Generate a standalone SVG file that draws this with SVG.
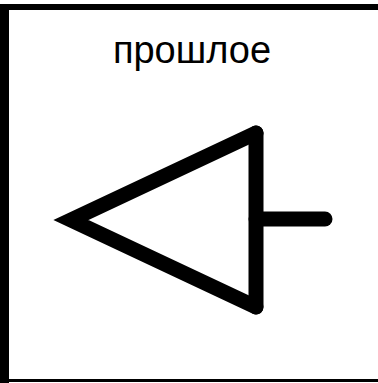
<svg xmlns="http://www.w3.org/2000/svg" width="378" height="383" viewBox="0 0 378 383">
  <style>
    .frame { fill: #000; }
    .sym { fill: none; stroke: #000; stroke-width: 15; }
    .label { font-family: "Liberation Sans", Arial, sans-serif; font-size: 38px; fill: #000; }
  </style>
  <rect width="378" height="383" fill="#fff"/>
  <g id="frame">
    <rect class="frame" x="0" y="4" width="378" height="6"/>
    <rect class="frame" x="0" y="4" width="9" height="379"/>
    <rect class="frame" x="0" y="379" width="378" height="3"/>
  </g>
  <g id="label">
    <text class="label" x="192" y="63" text-anchor="middle">прошлое</text>
  </g>
  <g id="symbol">
    <path class="sym" d="M256,133 L71,220 L256,307" stroke-linejoin="miter" stroke-linecap="round"/>
    <path class="sym" d="M256,133 V307" stroke-linecap="round"/>
    <path class="sym" d="M256,219 H325" stroke-width="14" stroke-linecap="round"/>
  </g>
</svg>
